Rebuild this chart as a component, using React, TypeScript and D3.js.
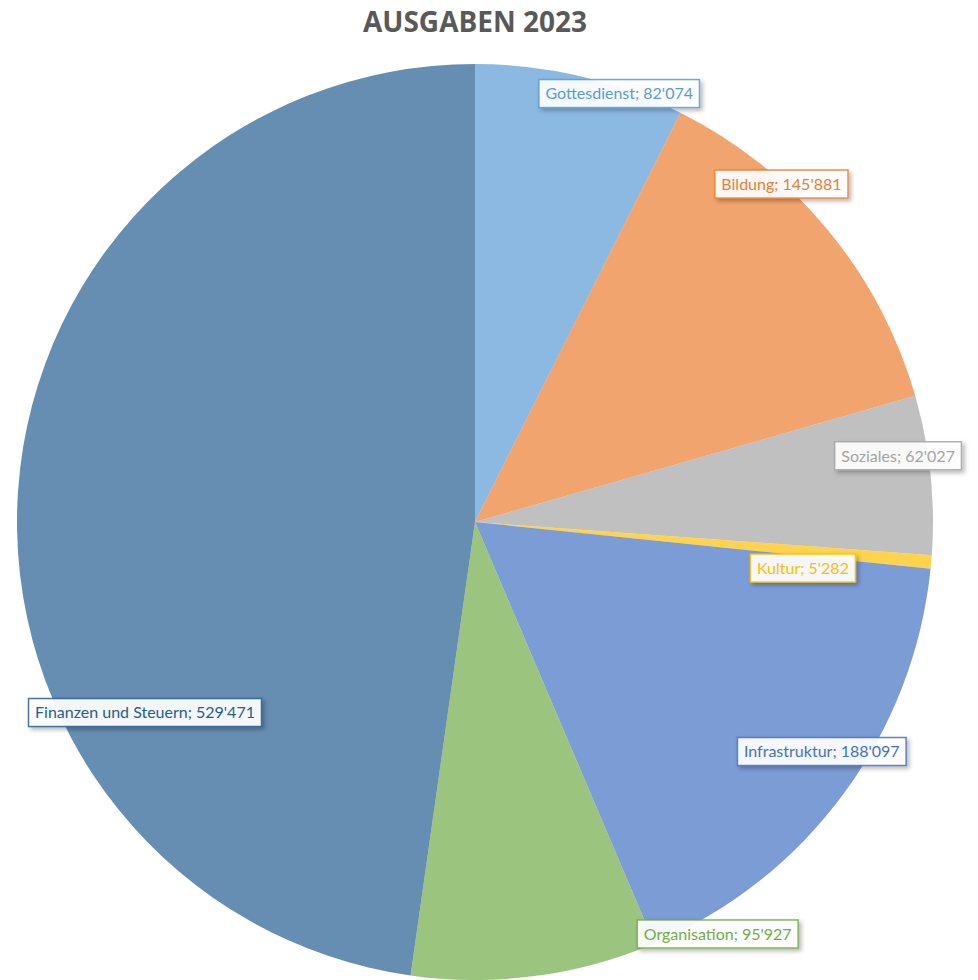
import React, { useEffect, useRef } from "react";
import * as d3 from "d3";

const title = "AUSGABEN 2023";
const categories = ["Gottesdienst", "Bildung", "Soziales", "Kultur", "Infrastruktur", "Organisation", "Finanzen und Steuern"];
const values = [82074, 145881, 62027, 5282, 188097, 95927, 529471];
const colors = ["#5B9BD5", "#ED7D31", "#A5A5A5", "#FFC000", "#4472C4", "#70AD47", "#255E91"];
// label box centre, polar (degrees clockwise from 12 o'clock, fraction of radius)
const labelAngles = [18.6, 42.2, 81.1, 98.0, 123.5, 149.5, 240.0];
const labelRadii = [0.987, 0.996, 0.935, 0.723, 0.908, 1.044, 0.832];

const W = 978;
const H = 980;
const cx = 475;
const cy = 522;
const R = 458;

const locale = d3.formatLocale({ decimal: ".", thousands: "'", grouping: [3], currency: ["", ""] });
const fmt = locale.format(",d");

export default function App() {
  const ref = useRef<SVGSVGElement>(null);
  useEffect(() => {
    const svg = d3.select(ref.current);
    svg.selectAll("*").remove();

    const defs = svg.append("defs");
    const f = defs.append("filter").attr("id", "shadow").attr("x", "-20%").attr("y", "-40%").attr("width", "140%").attr("height", "180%");
    f.append("feDropShadow").attr("dx", 2.5).attr("dy", 2.5).attr("stdDeviation", 2).attr("flood-color", "#000").attr("flood-opacity", 0.3);

    svg.append("text")
      .attr("x", cx)
      .attr("y", 32)
      .attr("text-anchor", "middle")
      .attr("font-family", "'Open Sans', sans-serif")
      .attr("font-weight", 700)
      .attr("font-size", 28)
      .attr("fill", "#595959")
      .text(title);

    const data = categories.map((c, i) => ({ c, v: values[i], color: colors[i], la: labelAngles[i], lr: labelRadii[i] }));
    const pie = d3.pie<any>().sort(null).value((d) => d.v).startAngle(0).endAngle(2 * Math.PI);
    const arcs = pie(data);
    const arc = d3.arc<any>().innerRadius(0).outerRadius(R);

    const g = svg.append("g").attr("transform", `translate(${cx},${cy})`);
    g.selectAll("path.slice")
      .data(arcs)
      .join("path")
      .attr("class", "slice")
      .attr("d", arc as any)
      .attr("fill", (d: any) => d.data.color)
      .attr("fill-opacity", 0.7);

    const lg = g.selectAll("g.label").data(arcs).join("g").attr("class", "label")
      .attr("transform", (d: any) => {
        const a = (d.data.la * Math.PI) / 180;
        const r = d.data.lr * R;
        return `translate(${r * Math.sin(a)},${-r * Math.cos(a)})`;
      });

    const rects = lg.append("rect")
      .attr("fill", "#ffffff")
      .attr("fill-opacity", 0.92)
      .attr("stroke", (d: any) => d.data.color)
      .attr("stroke-opacity", 0.85)
      .attr("stroke-width", 1.5)
      .attr("filter", "url(#shadow)");

    const texts = lg.append("text")
      .attr("text-anchor", "middle")
      .attr("dy", "0.36em")
      .attr("font-family", "Lato, sans-serif")
      .attr("font-size", 16)
      .attr("fill", (d: any) => d.data.color)
      .text((d: any) => `${d.data.c}; ${fmt(d.data.v)}`);

    texts.each(function (this: any, d: any, i: number) {
      const w = (this as SVGTextElement).getComputedTextLength();
      const bw = w + 13;
      const bh = 28;
      d3.select(rects.nodes()[i]).attr("x", -bw / 2).attr("y", -bh / 2).attr("width", bw).attr("height", bh);
    });
  }, []);

  return (
    <div style={{ position: "fixed", left: 0, top: 0 }}>
      <svg ref={ref} width={W} height={H} style={{ display: "block", background: "#fff" }} />
    </div>
  );
}
